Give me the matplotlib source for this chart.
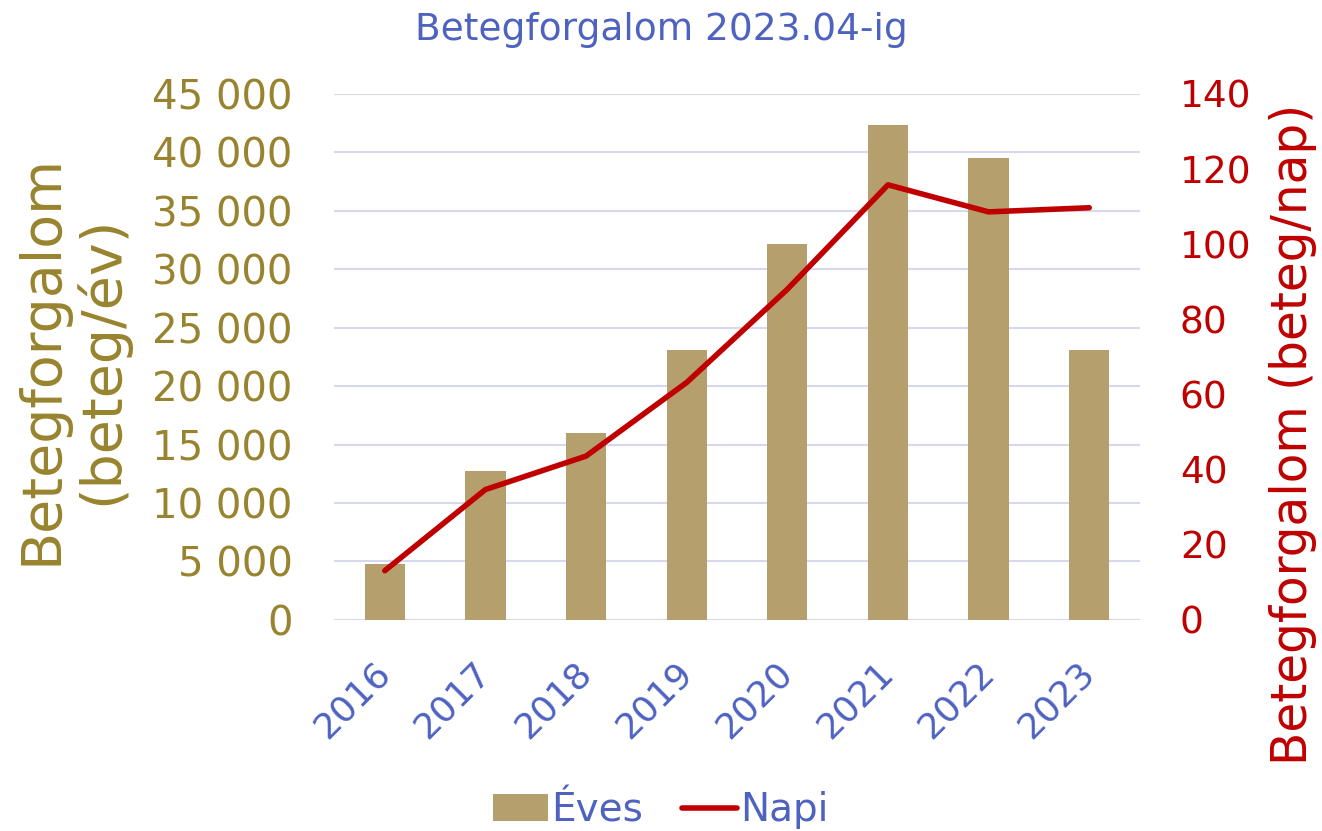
import matplotlib
matplotlib.use('Agg')
import matplotlib.pyplot as plt
from matplotlib.ticker import FuncFormatter, MultipleLocator

# %% DATA
years = ['2016', '2017', '2018', '2019', '2020', '2021', '2022', '2023']
eves = [4800, 12700, 16000, 23100, 32200, 42300, 39500, 23100]   # beteg/év
napi = [13.1, 34.7, 43.6, 63.2, 88.0, 115.8, 108.6, 109.7]       # beteg/nap

# %% COLOURS
c_bar = '#B5A06D'
c_line = '#C00000'
c_left = '#98832E'
c_blue = '#4E62C0'
c_grid = '#D6D9EE'

plt.rcParams['font.family'] = ['DejaVu Sans']

fig = plt.figure(figsize=(13.22, 8.31), dpi=100, facecolor='white')
ax1 = fig.add_axes([0.253, 0.254, 0.609, 0.633])
ax2 = ax1.twinx()

x = range(len(years))
b = ax1.bar(x, eves, width=0.4, color=c_bar, zorder=2, label='Éves')
l, = ax2.plot(x, napi, color=c_line, lw=4, solid_capstyle='round', label='Napi')

ax1.set_xlim(-0.5, 7.5)
ax1.set_ylim(0, 45000)
ax2.set_ylim(0, 140)
ax1.yaxis.set_major_locator(MultipleLocator(5000))
ax2.yaxis.set_major_locator(MultipleLocator(20))
ax1.yaxis.set_major_formatter(FuncFormatter(lambda v, p: '{:,.0f}'.format(v).replace(',', ' ')))

ax1.grid(axis='y', color=c_grid, lw=1.5, zorder=0)
ax1.set_axisbelow(True)
for a in (ax1, ax2):
    for s in a.spines.values():
        s.set_visible(False)
    a.tick_params(length=0)

ax1.set_xticks(list(x))
ax1.set_xticklabels(years, rotation=45, ha='right', va='center', rotation_mode='anchor',
                    color=c_blue, fontsize=26)
ax1.tick_params(axis='x', pad=34)
ax1.tick_params(axis='y', labelcolor=c_left, labelsize=29, pad=30)
ax2.tick_params(axis='y', labelcolor=c_line, labelsize=27, pad=29)

# axis titles
fig.text(0.0545, 0.567, 'Betegforgalom\n(beteg/év)', color=c_left, fontsize=40,
         rotation=90, ha='center', va='center', linespacing=1.1)
fig.text(0.978, 0.477, 'Betegforgalom (beteg/nap)', color=c_line, fontsize=35,
         rotation=90, ha='center', va='center')

fig.text(0.5, 0.964, 'Betegforgalom 2023.04-ig', color=c_blue, fontsize=27,
         ha='center', va='center')

leg = fig.legend([b, l], ['Éves', 'Napi'], loc='center', bbox_to_anchor=(0.5, 0.025),
                 ncol=2, frameon=False, fontsize=28, handlelength=1.4,
                 handletextpad=0.1, columnspacing=1.0)
for t in leg.get_texts():
    t.set_color(c_blue)

fig.savefig('out.png', dpi=100, facecolor='white')
